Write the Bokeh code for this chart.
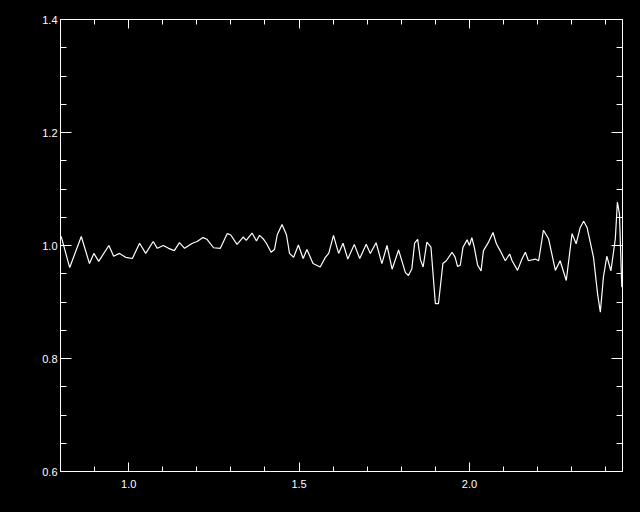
from bokeh.plotting import figure
from bokeh.models import Range1d, LinearAxis, FixedTicker, PrintfTickFormatter, GlobalInlineStyleSheet
from bokeh.embed import file_html
from bokeh.resources import INLINE

# traced spectrum values
wave = [0.802, 0.827, 0.861, 0.885, 0.898, 0.912, 0.942, 0.956, 0.973, 0.991,
        1.011, 1.032, 1.050, 1.072, 1.084, 1.102, 1.117, 1.134, 1.149, 1.164,
        1.187, 1.201, 1.218, 1.230, 1.249, 1.269, 1.289, 1.299, 1.318, 1.336,
        1.345, 1.362, 1.375, 1.384, 1.396, 1.404, 1.418, 1.428, 1.436, 1.450,
        1.463, 1.472, 1.484, 1.498, 1.512, 1.523, 1.541, 1.562, 1.577, 1.587,
        1.601, 1.616, 1.629, 1.643, 1.662, 1.678, 1.697, 1.709, 1.726, 1.743,
        1.758, 1.773, 1.792, 1.812, 1.821, 1.831, 1.839, 1.848, 1.856, 1.864,
        1.875, 1.887, 1.900, 1.909, 1.922, 1.932, 1.949, 1.958, 1.965, 1.973,
        1.981, 1.993, 2.000, 2.007, 2.014, 2.024, 2.034, 2.041, 2.056, 2.069,
        2.079, 2.090, 2.105, 2.118, 2.125, 2.141, 2.154, 2.164, 2.173, 2.193,
        2.203, 2.217, 2.232, 2.252, 2.266, 2.284, 2.301, 2.313, 2.325, 2.335,
        2.345, 2.364, 2.376, 2.384, 2.393, 2.403, 2.415, 2.428, 2.434, 2.440,
        2.447]
flux = [1.016, 0.961, 1.016, 0.968, 0.986, 0.972, 1.000, 0.981, 0.986, 0.979,
        0.977, 1.004, 0.986, 1.007, 0.995, 1.000, 0.995, 0.991, 1.005, 0.995,
        1.004, 1.007, 1.014, 1.011, 0.996, 0.995, 1.021, 1.019, 1.002, 1.015,
        1.009, 1.022, 1.008, 1.018, 1.011, 1.004, 0.988, 0.993, 1.019, 1.037,
        1.019, 0.986, 0.979, 1.001, 0.977, 0.993, 0.968, 0.962, 0.979, 0.986,
        1.018, 0.986, 1.004, 0.976, 1.002, 0.977, 1.002, 0.986, 1.005, 0.968,
        1.000, 0.958, 0.992, 0.952, 0.947, 0.959, 1.004, 1.011, 0.975, 0.962,
        1.006, 0.997, 0.897, 0.897, 0.968, 0.973, 0.988, 0.979, 0.963, 0.965,
        0.997, 1.010, 1.000, 1.014, 0.997, 0.965, 0.955, 0.991, 1.006, 1.023,
        1.003, 0.991, 0.973, 0.985, 0.973, 0.956, 0.976, 0.988, 0.973, 0.976,
        0.973, 1.027, 1.012, 0.956, 0.973, 0.938, 1.021, 1.003, 1.032, 1.043,
        1.032, 0.979, 0.914, 0.882, 0.944, 0.981, 0.955, 1.012, 1.077, 1.056,
        0.926]

x_ticks = [1.0, 1.5, 2.0]
x_minor = [0.8, 0.9, 1.1, 1.2, 1.3, 1.4, 1.6, 1.7, 1.8, 1.9, 2.1, 2.2, 2.3, 2.4]
y_ticks = [0.6, 0.8, 1.0, 1.2, 1.4]
y_minor = [0.65, 0.7, 0.75, 0.85, 0.9, 0.95, 1.05, 1.1, 1.15, 1.25, 1.3, 1.35]

x_start, x_end = 0.8, 2.449
y_start, y_end = 0.6, 1.4

p = figure(width=640, height=512, output_backend="svg", toolbar_location=None,
           x_range=Range1d(x_start, x_end), y_range=Range1d(y_start, y_end),
           x_axis_location=None, y_axis_location=None,
           min_border_left=60, min_border_right=18, min_border_top=19,
           min_border_bottom=41)
p.stylesheets = [GlobalInlineStyleSheet(css="html, body { background-color: #000000; }")]
p.background_fill_color = "black"
p.border_fill_color = "black"
p.outline_line_color = "white"
p.xgrid.visible = False
p.ygrid.visible = False


def make_axis(kind, labels):
    if kind == "x":
        tk = FixedTicker(ticks=x_ticks, minor_ticks=x_minor)
        major, minor = 9, 5
    else:
        tk = FixedTicker(ticks=y_ticks, minor_ticks=y_minor)
        major, minor = 11, 6
    ax = LinearAxis(ticker=tk, formatter=PrintfTickFormatter(format="%.1f"))
    ax.axis_line_color = "white"
    ax.major_tick_line_color = "white"
    ax.minor_tick_line_color = "white"
    ax.major_tick_in = major
    ax.major_tick_out = 0
    ax.minor_tick_in = minor
    ax.minor_tick_out = 0
    ax.major_label_text_color = "white"
    ax.major_label_text_font = "Liberation Sans"
    ax.major_label_text_font_size = "11px"
    if kind == "x":
        ax.major_label_standoff = 8
    else:
        ax.major_label_standoff = 3
    if not labels:
        ax.major_label_text_font_size = "0px"
        ax.major_label_text_alpha = 0
    return ax


p.add_layout(make_axis("x", True), "below")
p.add_layout(make_axis("x", False), "above")
p.add_layout(make_axis("y", True), "left")
p.add_layout(make_axis("y", False), "right")

p.line(wave, flux, line_color="white", line_width=1.2)

open("out.html", "w").write(file_html(p, INLINE))
